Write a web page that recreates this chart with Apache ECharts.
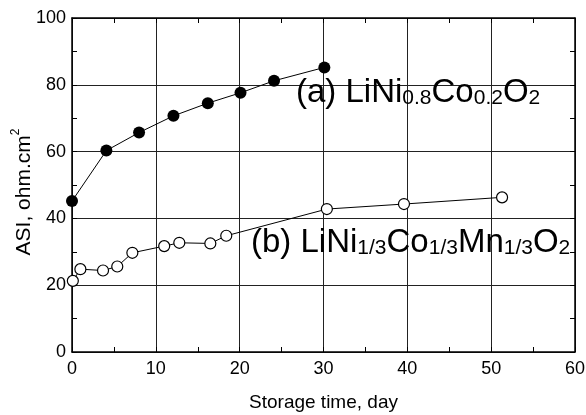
<!DOCTYPE html>
<html><head><meta charset="utf-8">
<script src="https://cdn.jsdelivr.net/npm/echarts@6/dist/echarts.min.js"></script>
<style>html,body{margin:0;padding:0;background:#fff}#c{width:586px;height:415px}</style>
</head><body><div id="c"></div>
<script>
// Data
const seriesAX = [0, 4.1, 8.0, 12.1, 16.2, 20.1, 24.1, 30.1];
const seriesAY = [45.2, 60.3, 65.7, 70.7, 74.5, 77.6, 81.2, 85.2];
const seriesBX = [0.1, 1.0, 3.7, 5.4, 7.2, 11.0, 12.8, 16.5, 18.4, 30.4, 39.6, 51.3];
const seriesBY = [21.3, 24.8, 24.4, 25.6, 29.7, 31.7, 32.7, 32.5, 34.8, 42.8, 44.3, 46.3];
const xRange = [0, 60, 10];
const yRange = [0, 100, 20];
const labelA = ['(a) LiNi', '0.8', 'Co', '0.2', 'O', '2'];
const labelB = ['(b) LiNi', '1/3', 'Co', '1/3', 'Mn', '1/3', 'O', '2'];
const xName = 'Storage time, day';
const yName = ['ASI, ohm.cm', '2'];

const FONT = '"Liberation Sans", Arial, Helvetica, sans-serif';
const pairs = (xs, ys) => xs.map((x, i) => [x, ys[i]]);
const richStr = parts => parts.map((p, i) => (i % 2 === 0 ? '{m|' : '{s|') + p + '}').join('');

const chart = echarts.init(document.getElementById('c'), null, {renderer: 'canvas'});

function axis(range, pos, main, extra) {
  return Object.assign({
    type: 'value', min: range[0], max: range[1], interval: range[2], position: pos,
    axisLine: {show: true, onZero: false, lineStyle: {color: '#000', width: 1.5}},
    axisTick: {show: true, inside: true, length: 5, lineStyle: {color: '#000', width: 1}},
    minorTick: {show: true, splitNumber: 2, length: 5, lineStyle: {color: '#000', width: 1}},
    splitLine: {show: main, lineStyle: {color: '#222', width: 1}},
    axisLabel: {show: main, color: '#000', fontSize: 18, fontFamily: FONT},
  }, extra || {});
}

const rich = {
  m: {fontSize: 33, fontFamily: FONT, lineHeight: 33, verticalAlign: 'bottom', fill: '#000'},
  s: {fontSize: 21, fontFamily: FONT, lineHeight: 17, verticalAlign: 'bottom', fill: '#000'}
};

chart.setOption({
  animation: false,
  backgroundColor: '#fff',
  grid: {left: 72, right: 11, top: 18, bottom: 63, containLabel: false, outerBoundsMode: 'none'},
  xAxis: [
    axis(xRange, 'bottom', true, {
      name: xName, nameLocation: 'middle', nameGap: 41, nameMoveOverlap: false,
      nameTextStyle: {color: '#000', fontSize: 19, fontFamily: FONT},
      axisLabel: {show: true, color: '#000', fontSize: 18, fontFamily: FONT, margin: 8}
    }),
    axis(xRange, 'top', false)
  ],
  yAxis: [
    axis(yRange, 'left', true, {
      name: richStr(yName), nameLocation: 'middle', nameGap: 37, nameRotate: 90, nameMoveOverlap: false,
      nameTextStyle: {color: '#000', fontFamily: FONT, padding: [0, 14, 0, 0],
        rich: {
          m: {fontSize: 21, fontFamily: FONT, color: '#000', lineHeight: 25, verticalAlign: 'bottom'},
          s: {fontSize: 12, fontFamily: FONT, color: '#000', lineHeight: 12, verticalAlign: 'top'}
        }},
      axisLabel: {show: true, color: '#000', fontSize: 18, fontFamily: FONT, margin: 6}
    }),
    axis(yRange, 'right', false)
  ],
  series: [
    {type: 'line', xAxisIndex: 0, yAxisIndex: 0, data: pairs(seriesAX, seriesAY),
      symbol: 'circle', symbolSize: 12, showAllSymbol: true, clip: false,
      itemStyle: {color: '#000'}, lineStyle: {color: '#000', width: 1}, z: 3},
    {type: 'line', xAxisIndex: 0, yAxisIndex: 0, data: pairs(seriesBX, seriesBY),
      symbol: 'circle', symbolSize: 11, showAllSymbol: true, clip: false,
      itemStyle: {color: '#fff', borderColor: '#000', borderWidth: 1.2}, lineStyle: {color: '#000', width: 1}, z: 3}
  ],
  graphic: [
    {type: 'text', left: 296, top: 76, z: 10, style: {text: richStr(labelA), rich: rich}},
    {type: 'text', left: 251, top: 226, z: 10, style: {text: richStr(labelB), rich: rich}}
  ]
});
</script>
</body></html>
